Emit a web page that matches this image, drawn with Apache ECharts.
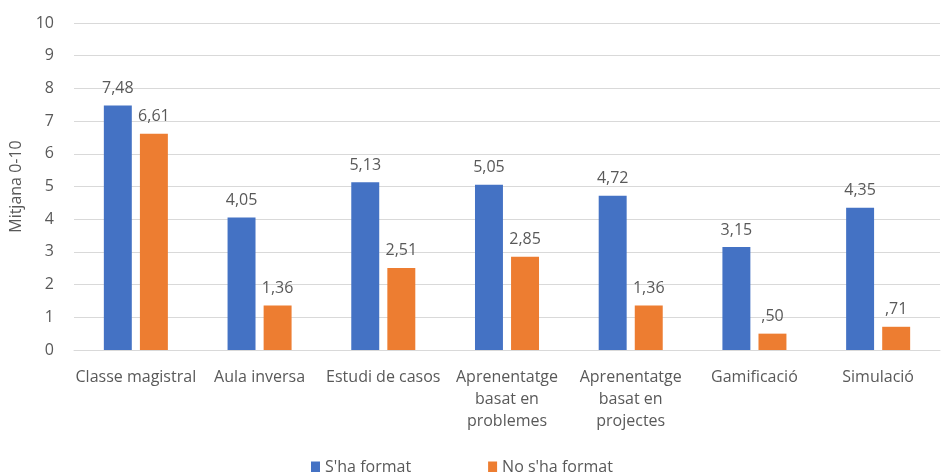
<!DOCTYPE html>
<html>
<head>
<meta charset="utf-8">
<script src="https://cdn.jsdelivr.net/npm/echarts@6/dist/echarts.min.js"></script>
<style>
  html, body { margin: 0; padding: 0; background: #fff; }
  #chart { width: 942px; height: 472px; }
</style>
</head>
<body>
<div id="chart"></div>
<script>
var categories = ['Classe magistral', 'Aula inversa', 'Estudi de casos',
    'Aprenentatge\nbasat en\nproblemes', 'Aprenentatge\nbasat en\nprojectes',
    'Gamificació', 'Simulació'];
var formatValues = [7.48, 4.05, 5.13, 5.05, 4.72, 3.15, 4.35];
var noFormatValues = [6.61, 1.36, 2.51, 2.85, 1.36, 0.50, 0.71];
var seriesNames = ["S'ha format", "No s'ha format"];

var font = 'Open Sans';
var grey = '#595959';

// excel-style number: 0,50 -> ,50
function fmt(p) {
    var s = p.value.toFixed(2).replace('.', ',');
    if (s.indexOf('0,') === 0) s = s.slice(1);
    return s;
}

var label = {
    show: true,
    position: 'top',
    distance: 9,
    color: grey,
    fontFamily: font,
    fontSize: 16,
    formatter: fmt
};

var opts = {
    animation: false,
    textStyle: { fontFamily: font },
    grid: { left: 74, right: 2, top: 23, bottom: 122 },
    legend: {
        bottom: -8,
        left: 306,
        itemWidth: 9,
        itemHeight: 11,
        itemGap: 77,
        icon: 'rect',
        textStyle: { color: grey, fontSize: 16, fontFamily: font },
        data: seriesNames
    },
    xAxis: {
        type: 'category',
        data: categories,
        axisLine: { lineStyle: { color: '#d9d9d9' } },
        axisTick: { show: false },
        axisLabel: {
            color: grey, fontSize: 16, fontFamily: font,
            margin: 16, lineHeight: 22, interval: 0
        }
    },
    yAxis: {
        type: 'value',
        min: 0,
        max: 10,
        interval: 1,
        name: 'Mitjana 0-10',
        nameLocation: 'middle',
        nameGap: 48,
        nameTextStyle: { color: grey, fontSize: 16, fontFamily: font },
        axisLine: { show: false },
        axisTick: { show: false },
        axisLabel: { color: grey, fontSize: 16, fontFamily: font, margin: 20 },
        splitLine: { lineStyle: { color: '#d9d9d9' } }
    },
    series: [
        {
            name: seriesNames[0],
            type: 'bar',
            data: formatValues,
            barWidth: '22.6%',
            barGap: '29%',
            itemStyle: { color: '#4472c4' },
            label: label
        },
        {
            name: seriesNames[1],
            type: 'bar',
            data: noFormatValues,
            barWidth: '22.6%',
            itemStyle: { color: '#ed7d31' },
            label: label
        }
    ]
};

echarts.init(document.getElementById('chart')).setOption(opts);
</script>
</body>
</html>
